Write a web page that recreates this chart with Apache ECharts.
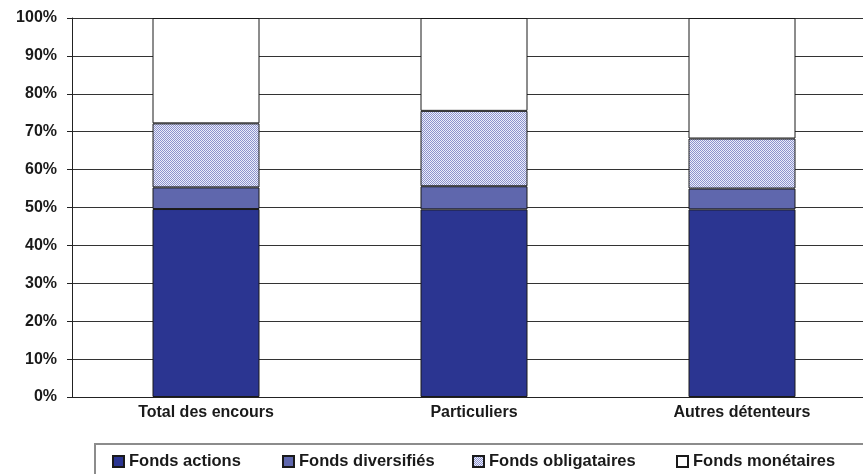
<!DOCTYPE html>
<html>
<head>
<meta charset="utf-8">
<script src="https://cdn.jsdelivr.net/npm/echarts@6/dist/echarts.min.js"></script>
<style>
  html, body { margin: 0; padding: 0; background: #fff; overflow: hidden; }
  #chart { width: 880px; height: 474px; }
</style>
</head>
<body>
<div id="chart"></div>
<script>
// Categories and stacked shares (in %)
const categories = ['Total des encours', 'Particuliers', 'Autres détenteurs'];
const fondsActions = [49.6, 49.5, 49.5];
const fondsDiversifies = [5.7, 6.1, 5.5];
const fondsObligataires = [16.9, 19.9, 13.2];
const fondsMonetaires = [27.8, 24.5, 31.8];
const seriesNames = ['Fonds actions', 'Fonds diversifiés', 'Fonds obligataires', 'Fonds monétaires'];

// Fine checker fill for the bond funds
function checker() {
  const c = document.createElement('canvas');
  c.width = 2; c.height = 2;
  const g = c.getContext('2d');
  g.fillStyle = '#eceefa'; g.fillRect(0, 0, 2, 2);
  g.fillStyle = '#8c92cd'; g.fillRect(0, 0, 1, 1); g.fillRect(1, 1, 1, 1);
  return c;
}

const font = '"Liberation Sans", Arial, sans-serif';
const chart = echarts.init(document.getElementById('chart'), null, { renderer: 'canvas' });

const border = { borderColor: '#1a1a1a', borderWidth: 1 };
const fills = [
  { color: '#2b3591', ...border },
  { color: '#5f67ad', ...border },
  { color: { image: checker(), repeat: 'repeat' }, ...border },
  { color: '#ffffff', ...border }
];
const values = [fondsActions, fondsDiversifies, fondsObligataires, fondsMonetaires];
const legendLeft = [112, 282, 472, 676];

chart.setOption({
  animation: false,
  backgroundColor: '#ffffff',
  grid: { left: 72, top: 18, width: 804, height: 379, containLabel: false },
  xAxis: {
    type: 'category',
    data: categories,
    axisLine: { show: true, lineStyle: { color: '#222', width: 1 } },
    axisTick: { show: false },
    axisLabel: { color: '#1a1a1a', fontFamily: font, fontWeight: 'bold', fontSize: 16, margin: 8 }
  },
  yAxis: {
    type: 'value',
    min: 0, max: 100, interval: 10,
    axisLine: { show: true, lineStyle: { color: '#222', width: 1 } },
    axisTick: { show: true, length: 5, lineStyle: { color: '#222' } },
    splitLine: { show: true, lineStyle: { color: '#333', width: 1 } },
    axisLabel: {
      color: '#1a1a1a', fontFamily: font, fontWeight: 'bold', fontSize: 16, margin: 15,
      formatter: v => v + '%'
    }
  },
  legend: seriesNames.map((n, i) => ({
    data: [n],
    left: legendLeft[i],
    top: 453,
    itemWidth: 11,
    itemHeight: 11,
    icon: 'rect',
    selectedMode: false,
    padding: 0,
    textStyle: { color: '#1a1a1a', fontFamily: font, fontWeight: 'bold', fontSize: 16.5 }
  })),
  graphic: [{
    type: 'rect',
    shape: { x: 95, y: 444, width: 820, height: 60 },
    style: { fill: 'none', stroke: '#8c8c8c', lineWidth: 2 },
    silent: true
  }],
  series: seriesNames.map((n, i) => ({
    name: n,
    type: 'bar',
    stack: 'total',
    barWidth: 107,
    data: values[i],
    itemStyle: fills[i]
  }))
});
</script>
</body>
</html>
